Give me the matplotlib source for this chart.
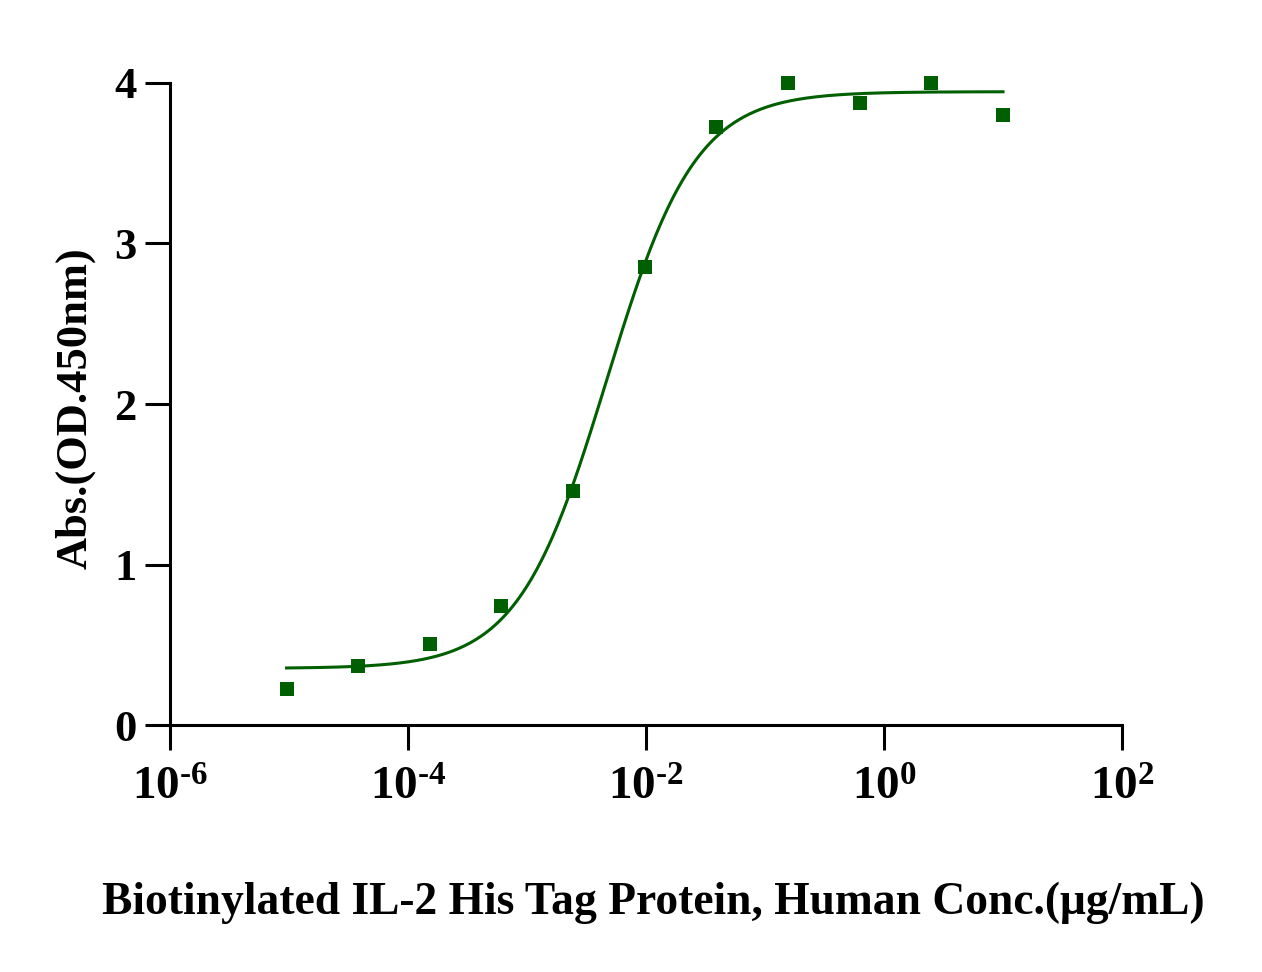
import numpy as np
import matplotlib
matplotlib.use("Agg")
import matplotlib.pyplot as plt
from matplotlib.ticker import FixedLocator, NullLocator

# ---- data ----
conc = [9.54e-6, 3.81e-5, 1.53e-4, 6.10e-4, 2.44e-3, 9.77e-3, 3.91e-2, 0.156, 0.625, 2.5, 10.0]
absorb = [0.224, 0.368, 0.505, 0.741, 1.458, 2.854, 3.726, 4.00, 3.875, 4.00, 3.80]
x_ticks = [1e-6, 1e-4, 1e-2, 1e0, 1e2]
x_tick_labels = [r"$\mathbf{10^{\text{-}6}}$", r"$\mathbf{10^{\text{-}4}}$", r"$\mathbf{10^{\text{-}2}}$",
                 r"$\mathbf{10^{0}}$", r"$\mathbf{10^{2}}$"]
y_ticks = [0, 1, 2, 3, 4]
x_label = "Biotinylated IL-2 His Tag Protein, Human Conc.(\u03bcg/mL)"
y_label = "Abs.(OD.450nm)"

GREEN = "#005f00"

plt.rcParams["font.family"] = ["Liberation Serif", "DejaVu Serif"]
plt.rcParams["font.weight"] = "bold"
plt.rcParams["mathtext.fontset"] = "custom"
plt.rcParams["mathtext.rm"] = "Liberation Serif:bold"
plt.rcParams["mathtext.bf"] = "Liberation Serif:bold"
plt.rcParams["mathtext.it"] = "Liberation Serif:bold:italic"


# ---- 4-parameter logistic fit (Levenberg-Marquardt in numpy) ----
def four_pl(lx, p):
    bottom, top, logec, hill = p
    return bottom + (top - bottom) / (1.0 + 10.0 ** ((logec - lx) * hill))


lx = np.log10(np.array(conc))
yv = np.array(absorb)
p = np.array([0.35, 3.93, -2.35, 1.2])
lam = 1e-3
for _ in range(200):
    r = yv - four_pl(lx, p)
    J = np.empty((len(lx), 4))
    for k in range(4):
        dp = np.zeros(4)
        dp[k] = 1e-6
        J[:, k] = (four_pl(lx, p + dp) - four_pl(lx, p - dp)) / 2e-6
    A = J.T @ J
    g = J.T @ r
    step = np.linalg.solve(A + lam * np.diag(np.diag(A)), g)
    pn = p + step
    if np.sum((yv - four_pl(lx, pn)) ** 2) < np.sum(r ** 2):
        p = pn
        lam *= 0.5
    else:
        lam *= 4

lx_fit = np.linspace(lx.min(), lx.max(), 400)
y_fit = four_pl(lx_fit, p)

# ---- figure ----
fig = plt.figure(figsize=(12.62, 9.72), dpi=100)
ax = fig.add_axes([170 / 1262, 1 - 725 / 972, (1122 - 170) / 1262, (725 - 83) / 972])

ax.plot(10 ** lx_fit, y_fit, color=GREEN, lw=2.2, zorder=2)
ax.plot(conc, absorb, linestyle="none", marker="s", ms=9.5, color=GREEN,
        markeredgewidth=0, zorder=3, clip_on=False)

ax.set_xscale("log")
ax.set_xlim(1e-6, 1e2)
ax.set_ylim(0, 4)

ax.xaxis.set_major_locator(FixedLocator(x_ticks))
ax.xaxis.set_minor_locator(NullLocator())
ax.set_xticks(x_ticks)
ax.set_xticklabels(x_tick_labels)
ax.set_yticks(y_ticks)
ax.set_yticklabels([str(v) for v in y_ticks])

for s in ("top", "right"):
    ax.spines[s].set_visible(False)
for s in ("left", "bottom"):
    ax.spines[s].set_linewidth(2.2)
    ax.spines[s].set_capstyle("projecting")

ax.tick_params(axis="both", which="major", length=18, width=2.2, direction="out",
               colors="black")
ax.tick_params(axis="y", pad=6, labelsize=32)
ax.tick_params(axis="x", pad=13, labelsize=34)
for t in ax.get_yticklabels() + ax.get_xticklabels():
    t.set_fontweight("bold")

fig.text(653 / 1262, 1 - 903 / 972, x_label, ha="center", va="center",
         fontsize=32.8, fontweight="bold")
fig.text(75 / 1262, 1 - 408 / 972, y_label, ha="center", va="center",
         rotation=90, fontsize=32, fontweight="bold")

fig.savefig("out.png", dpi=100, facecolor="white")
